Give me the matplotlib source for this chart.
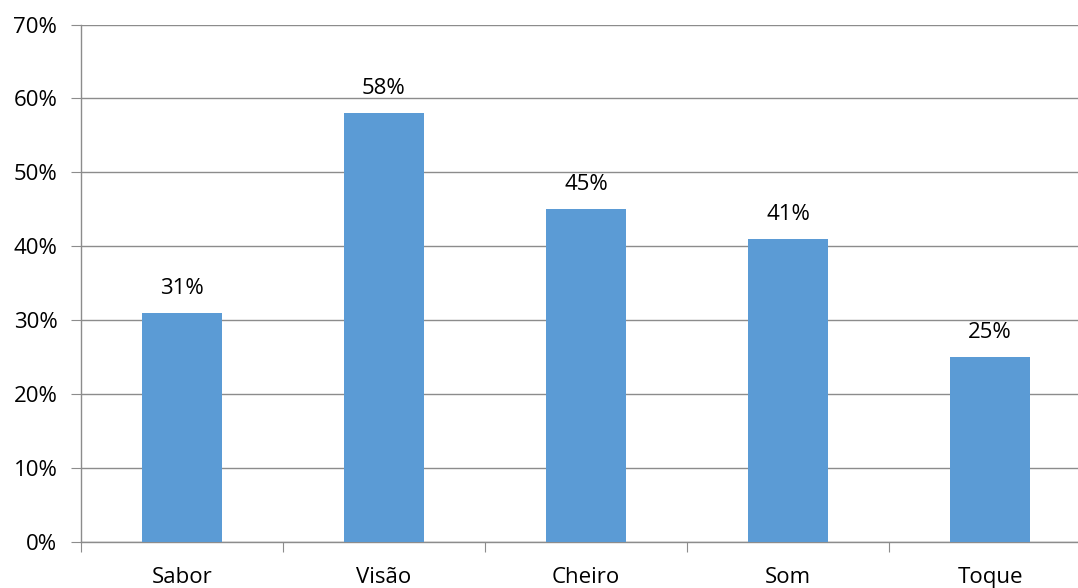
import matplotlib
matplotlib.use("Agg")
import matplotlib.pyplot as plt
from matplotlib.ticker import PercentFormatter

categories = ["Sabor", "Visão", "Cheiro", "Som", "Toque"]
values = [31, 58, 45, 41, 25]
yticks = [0, 10, 20, 30, 40, 50, 60, 70]

plt.rcParams["font.family"] = ["Open Sans", "DejaVu Sans"]

fig = plt.figure(figsize=(10.78, 5.88), dpi=100)
ax = fig.add_axes([0.0751, 0.0782, 0.937, 0.880])

x = range(len(categories))
bars = ax.bar(x, values, width=0.4, color="#5b9bd5", zorder=3)

for xi, v in zip(x, values):
    ax.annotate(f"{v}%", (xi, v), xytext=(0, 10), textcoords="offset points",
                ha="center", va="bottom", fontsize=16, color="#000000")

ax.set_xlim(-0.5, len(categories) - 0.5)
ax.set_ylim(0, 70)
ax.set_yticks(yticks)
ax.yaxis.set_major_formatter(PercentFormatter(decimals=0))
ax.grid(axis="y", color="#8c8c8c", linewidth=1.0, zorder=0)

ax.set_xticks([i + 0.5 for i in range(-1, len(categories))], minor=False)
ax.set_xticklabels([])
ax.set_xticks(list(x), minor=True)
ax.set_xticklabels(categories, minor=True)
ax.tick_params(axis="x", which="major", length=7, color="#8c8c8c", direction="out")
ax.tick_params(axis="x", which="minor", length=0, pad=18, labelsize=16)
ax.tick_params(axis="y", length=7, color="#8c8c8c", direction="out", labelsize=16, pad=10)

for side in ("top", "right"):
    ax.spines[side].set_visible(False)
for side in ("left", "bottom"):
    ax.spines[side].set_color("#8c8c8c")
    ax.spines[side].set_linewidth(1.0)

fig.savefig("out.png", dpi=100)
